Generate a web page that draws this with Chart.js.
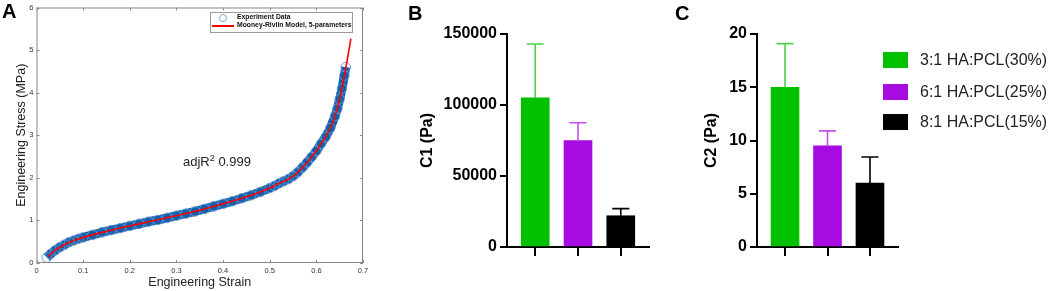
<!DOCTYPE html>
<html>
<head>
<meta charset="utf-8">
<script src="https://cdn.jsdelivr.net/npm/chart.js@4.4.1/dist/chart.umd.min.js"></script>
<style>
  body { margin: 0; background: #fff; }
  #wrap {
    position: relative;
    width: 1059px;
    height: 291px;
    overflow: hidden;
    font-family: "Liberation Sans", Arial, sans-serif;
  }
  canvas { position: absolute; top: 0; }
  .letter {
    position: absolute;
    font-size: 20px;
    line-height: 20px;
    font-weight: bold;
    color: #000;
  }
  #adjR {
    position: absolute;
    left: 183px;
    top: 154px;
    font-size: 13px;
    line-height: 15px;
    color: #222;
    white-space: nowrap;
  }
  #adjR sup { font-size: 9px; line-height: 0; }
  #legA {
    position: absolute;
    left: 210px;
    top: 12px;
    width: 141px;
    height: 19px;
    border: 1px solid #9a9a9a;
    background: #fff;
  }
  #legA .txt {
    position: absolute;
    left: 26px;
    font-size: 6.8px;
    line-height: 8px;
    font-weight: bold;
    color: #111;
    white-space: nowrap;
  }
  #legA .circ {
    position: absolute;
    left: 7.5px;
    top: 0.5px;
    width: 6px;
    height: 6px;
    border: 1px solid #7ea9d6;
    border-radius: 50%;
  }
  #legA .ln {
    position: absolute;
    left: 1px;
    top: 11.5px;
    width: 22px;
    height: 2px;
    background: #ff0000;
  }
  #legC .sw {
    position: absolute;
    left: 883px;
    width: 25px;
    height: 16px;
  }
  #legC .txt {
    position: absolute;
    left: 920px;
    font-size: 16px;
    line-height: 18px;
    color: #222;
    white-space: nowrap;
  }
</style>
</head>
<body>
<div id="wrap">
  <canvas id="chartA" width="380" height="291" style="left:0px"></canvas>
  <canvas id="chartB" width="300" height="291" style="left:380px"></canvas>
  <canvas id="chartC" width="379" height="291" style="left:680px"></canvas>
  <div class="letter" style="left:2px;top:1px">A</div>
  <div class="letter" style="left:408px;top:3px">B</div>
  <div class="letter" style="left:675px;top:3px">C</div>
  <div id="adjR">adjR<sup>2</sup> 0.999</div>
  <div id="legA"></div>
  <div id="legC"></div>
</div>
<script>
// panel A - stress / strain
const seriesNames = ["Experiment Data", "Mooney-Rivlin Model, 5-parameters"];

const expStrain = [0.022, 0.03, 0.04, 0.05, 0.06, 0.07, 0.08, 0.09, 0.10, 0.12, 0.14, 0.16, 0.18,
  0.20, 0.22, 0.24, 0.26, 0.28, 0.30, 0.32, 0.34, 0.36, 0.38, 0.40, 0.42, 0.44, 0.46, 0.48,
  0.50, 0.51, 0.52, 0.53, 0.54, 0.55, 0.56, 0.57, 0.58, 0.59, 0.60, 0.61, 0.62, 0.63, 0.64,
  0.645, 0.65, 0.655, 0.66, 0.663];
const expStress = [0.13, 0.21, 0.30, 0.37, 0.43, 0.49, 0.53, 0.57, 0.60, 0.66, 0.72, 0.77, 0.82,
  0.87, 0.92, 0.97, 1.01, 1.06, 1.11, 1.16, 1.21, 1.27, 1.33, 1.39, 1.45, 1.52, 1.59, 1.67,
  1.76, 1.81, 1.87, 1.92, 1.97, 2.04, 2.13, 2.24, 2.36, 2.49, 2.63, 2.80, 2.96, 3.17, 3.45,
  3.62, 3.85, 4.10, 4.40, 4.60];

const fitStrain = [0.025, 0.04, 0.06, 0.08, 0.10, 0.13, 0.16, 0.20, 0.25, 0.30, 0.35, 0.40,
  0.44, 0.48, 0.50, 0.52, 0.54, 0.56, 0.58, 0.60, 0.61, 0.62, 0.63, 0.64, 0.65, 0.66, 0.667, 0.674];
const fitStress = [0.15, 0.30, 0.43, 0.53, 0.60, 0.69, 0.77, 0.87, 0.99, 1.11, 1.24, 1.39,
  1.52, 1.67, 1.76, 1.87, 1.97, 2.13, 2.36, 2.63, 2.80, 2.96, 3.17, 3.45, 3.85, 4.40, 4.82, 5.27];

// panels B, C - Mooney-Rivlin constants
const groups = ["3:1 HA:PCL(30%)", "6:1 HA:PCL(25%)", "8:1 HA:PCL(15%)"];
const groupPos = [1, 2, 3];
const c1Mean = [105000, 75000, 22000];
const c1Err = [38000, 12500, 5000];
const c2Mean = [15, 9.5, 6];
const c2Err = [4.1, 1.4, 2.45];
const barColors = ["#00c000", "#a60be2", "#000000"];
const errColors = ["#4ccf4c", "#c24ff0", "#000000"];

const FONT = "'Liberation Sans', Arial, sans-serif";

// matlab-ish box with inward ticks
const boxFrame = {
  id: "boxFrame",
  afterDraw(chart) {
    const { ctx, chartArea: a } = chart;
    const xs = chart.scales.x, ys = chart.scales.y;
    ctx.save();
    ctx.strokeStyle = "#8a8a8a";
    ctx.lineWidth = 1;
    ctx.strokeRect(a.left + 0.5, a.top + 0.5, a.right - a.left - 1, a.bottom - a.top - 1);
    ctx.beginPath();
    xs.ticks.forEach((t) => {
      const px = Math.round(xs.getPixelForValue(t.value)) + 0.5;
      ctx.moveTo(px, a.bottom); ctx.lineTo(px, a.bottom - 3);
      ctx.moveTo(px, a.top); ctx.lineTo(px, a.top + 3);
    });
    ys.ticks.forEach((t) => {
      const py = Math.round(ys.getPixelForValue(t.value)) + 0.5;
      ctx.moveTo(a.left, py); ctx.lineTo(a.left + 3, py);
      ctx.moveTo(a.right, py); ctx.lineTo(a.right - 3, py);
    });
    ctx.stroke();
    ctx.restore();
  }
};

function makeErrorBars(mean, err, colors) {
  return {
    id: "errorBars",
    afterDatasetsDraw(chart) {
      const { ctx } = chart;
      const ys = chart.scales.y;
      const meta = chart.getDatasetMeta(0);
      meta.data.forEach((bar, i) => {
        const top = ys.getPixelForValue(mean[i] + err[i]);
        ctx.save();
        ctx.strokeStyle = colors[i];
        ctx.lineWidth = 1.6;
        ctx.beginPath();
        ctx.moveTo(bar.x, bar.y);
        ctx.lineTo(bar.x, top);
        ctx.moveTo(bar.x - 8.5, top);
        ctx.lineTo(bar.x + 8.5, top);
        ctx.stroke();
        ctx.restore();
      });
    }
  };
}

new Chart(document.getElementById("chartA"), {
  type: "scatter",
  data: {
    datasets: [
      {
        label: seriesNames[0],
        data: expStrain.map((x, i) => ({ x, y: expStress[i] })),
        showLine: true,
        borderColor: "#165fab",
        borderWidth: 9,
        pointRadius: 4.8,
        pointBorderWidth: 1,
        pointBorderColor: "rgba(100,152,210,0.9)",
        pointBackgroundColor: "rgba(0,0,0,0)",
        order: 1
      },
      {
        label: seriesNames[1],
        data: fitStrain.map((x, i) => ({ x, y: fitStress[i] })),
        showLine: true,
        borderColor: "#ff0000",
        borderWidth: 1.6,
        pointRadius: 0,
        tension: 0.3,
        order: 0
      }
    ]
  },
  options: {
    responsive: false,
    animation: false,
    layout: { padding: { left: 10, top: 5, right: 17, bottom: 0 } },
    plugins: { legend: { display: false }, tooltip: { enabled: false } },
    scales: {
      x: {
        type: "linear",
        min: 0,
        max: 0.7,
        ticks: { stepSize: 0.1, color: "#333", font: { family: FONT, size: 7.5 }, padding: 3, maxRotation: 0 },
        grid: { display: false, drawTicks: false },
        border: { display: false },
        title: { display: true, text: "Engineering Strain", color: "#222", font: { family: FONT, size: 12.5 }, padding: { top: 2, bottom: 1 } },
        afterFit(s) { s.height = 28; }
      },
      y: {
        min: 0,
        max: 6,
        ticks: { stepSize: 1, color: "#333", font: { family: FONT, size: 7.5 }, padding: 3 },
        grid: { display: false, drawTicks: false },
        border: { display: false },
        title: { display: true, text: "Engineering Stress (MPa)", color: "#222", font: { family: FONT, size: 12.5 }, padding: { top: 4, bottom: 4 } },
        afterFit(s) { s.width = 26.5; }
      }
    }
  },
  plugins: [boxFrame]
});

function barChart(id, mean, err, yMax, yStep, yTitle, padLeft, yWidth, padRight) {
  return new Chart(document.getElementById(id), {
    type: "bar",
    data: {
      labels: groups,
      datasets: [{
        data: groupPos.map((x, i) => ({ x, y: mean[i] })),
        backgroundColor: barColors,
        borderWidth: 0,
        barThickness: 28
      }]
    },
    options: {
      responsive: false,
      animation: false,
      layout: { padding: { left: padLeft, top: 34, right: padRight, bottom: 0 } },
      plugins: { legend: { display: false }, tooltip: { enabled: false } },
      scales: {
        x: {
          type: "linear",
          min: 0.34,
          max: 3.66,
          offset: false,
          afterBuildTicks(s) { s.ticks = groupPos.map((v) => ({ value: v })); },
          ticks: { callback: () => "" },
          grid: { offset: false, drawOnChartArea: false, drawTicks: true, tickLength: 9, color: "#000", lineWidth: 2 },
          border: { display: true, color: "#000", width: 2 },
          afterFit(s) { s.height = 44; }
        },
        y: {
          min: 0,
          max: yMax,
          ticks: {
            stepSize: yStep,
            color: "#000",
            padding: 3,
            font: { family: FONT, size: 16, weight: "bold" },
            callback: (v) => String(v)
          },
          grid: { drawOnChartArea: false, drawTicks: true, tickLength: 7, color: "#000", lineWidth: 2 },
          border: { display: true, color: "#000", width: 2 },
          title: { display: true, text: yTitle, color: "#000", font: { family: FONT, size: 16, weight: "bold" }, padding: { top: 4, bottom: 4 } },
          afterFit(s) { s.width = yWidth; }
        }
      }
    },
    plugins: [makeErrorBars(mean, err, errColors)]
  });
}

barChart("chartB", c1Mean, c1Err, 150000, 50000, "C1 (Pa)", 34.4, 92.6, 31);
barChart("chartC", c2Mean, c2Err, 20, 5, "C2 (Pa)", 18.4, 58.6, 161);

// legends
const legA = document.getElementById("legA");
legA.innerHTML =
  '<span class="circ"></span><span class="txt" style="top:0px">' + seriesNames[0] + '</span>' +
  '<span class="ln"></span><span class="txt" style="top:8.3px">' + seriesNames[1] + '</span>';

const legRows = [60, 92, 122];
const legC = document.getElementById("legC");
groups.forEach((g, i) => {
  legC.innerHTML +=
    '<div class="sw" style="top:' + (legRows[i] - 8) + 'px;background:' + barColors[i] + '"></div>' +
    '<div class="txt" style="top:' + (legRows[i] - 9) + 'px">' + g + '</div>';
});
</script>
</body>
</html>
